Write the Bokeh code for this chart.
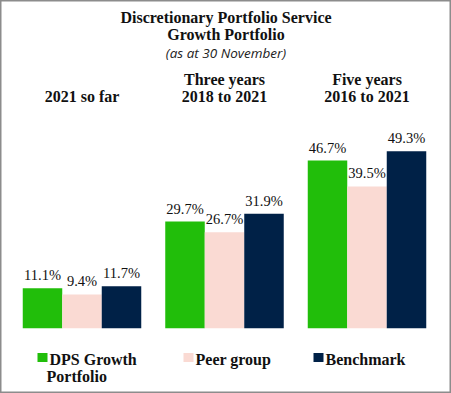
import numpy as np
from bokeh.plotting import figure
from bokeh.models import Range1d, ColumnDataSource
from bokeh.core.properties import value
from bokeh.embed import file_html
from bokeh.resources import INLINE

# ---- data ----
categories = ["2021 so far", "Three years\n2018 to 2021", "Five years\n2016 to 2021"]
series_names = ["DPS Growth\nPortfolio", "Peer group", "Benchmark"]
dps_growth = [11.1, 29.7, 46.7]
peer_group = [9.4, 26.7, 39.5]
benchmark = [11.7, 31.9, 49.3]
title_lines = ["Discretionary Portfolio Service", "Growth Portfolio"]
subtitle = "(as at 30 November)"

colors = ["#21BE0A", "#FADAD3", "#002147"]
series = [dps_growth, peer_group, benchmark]

W, H = 451, 393
PX_PER_X = 142.5   # pixels per category step
PX_PER_Y = 3.59    # pixels per percentage point
BASE_PX = 327.7    # baseline pixel (from top)
G0_PX = 81.5       # first group centre pixel

x0 = -G0_PX / PX_PER_X
x1 = x0 + W / PX_PER_X
y1 = BASE_PX / PX_PER_Y
y0 = y1 - H / PX_PER_Y

def X(px):
    return x0 + px / PX_PER_X

def Y(py):
    return y1 - py / PX_PER_Y

p = figure(width=W, height=H, output_backend="svg", toolbar_location=None,
           x_range=Range1d(x0, x1), y_range=Range1d(y0, y1),
           x_axis_type=None, y_axis_type=None, min_border=0)
p.grid.visible = False
p.outline_line_color = "#8C8C8C"
p.outline_line_width = 2
p.background_fill_color = "white"
p.border_fill_color = "white"

SERIF = value("Liberation Serif")
bw = 39.5 / PX_PER_X
idx = np.arange(len(categories))
for i, (vals, col) in enumerate(zip(series, colors)):
    xs = idx + (i - 1) * bw
    src = ColumnDataSource(dict(x=xs, top=vals, lab=[f"{v:.1f}%" for v in vals]))
    p.vbar(x="x", top="top", bottom=0, width=bw, source=src,
           fill_color=col, line_color=None)
    p.text(x="x", y="top", text="lab", source=src, text_align="center",
           text_baseline="alphabetic", y_offset=-13, text_font=SERIF,
           text_font_size="14.5px", text_color="#111111")

# category labels (placed above the groups)
for i, cat in enumerate(categories):
    lines = cat.split("\n")
    n = len(lines)
    for j, ln in enumerate(lines):
        base = 96 - (n - 1 - j) * 17.5
        p.text(x=[idx[i]], y=[Y(base)], text=[ln], text_align="center",
               text_baseline="alphabetic", text_font=SERIF, text_font_size="16px",
               text_font_style="bold", text_color="#111111")

# title
xc = (x0 + x1) / 2
for j, ln in enumerate(title_lines):
    p.text(x=[xc], y=[Y(16.5 + j * 17.3)], text=[ln], text_align="center",
           text_baseline="alphabetic", text_font=SERIF, text_font_size="16px",
           text_font_style="bold", text_color="#111111")
p.text(x=[xc], y=[Y(52.5)], text=[subtitle], text_align="center",
       text_baseline="alphabetic", text_font=value("Open Sans"), text_font_size="13.5px",
       text_font_style="italic", text_color="#222222")

# legend
sq_px = [42, 188, 318]
for name, col, sx in zip(series_names, colors, sq_px):
    p.rect(x=[X(sx)], y=[Y(357)], width=10, height=9, width_units="screen",
           height_units="screen", fill_color=col, line_color=None)
    lines = name.split("\n")
    for j, ln in enumerate(lines):
        tx = sx + 7 if j == 0 else sx + 4
        p.text(x=[X(tx)], y=[Y(358.5 + j * 17.5)], text=[ln], text_align="left",
               text_baseline="alphabetic", text_font=SERIF, text_font_size="16px",
               text_font_style="bold", text_color="#111111")

open("out.html", "w").write(file_html(p, INLINE))
